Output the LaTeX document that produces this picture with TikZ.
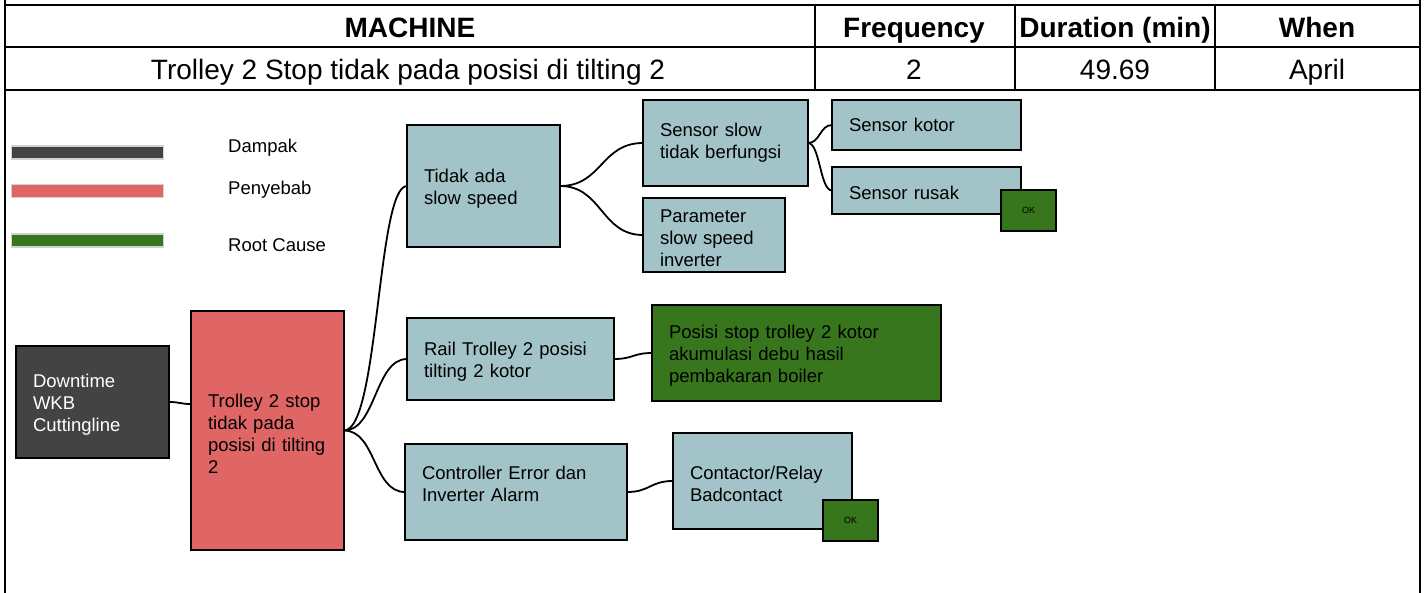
\documentclass[tikz,border=0pt]{standalone}
\usepackage{fontspec}
\setmainfont{Liberation Sans}
\definecolor{teal}{HTML}{A2C4C9}
\definecolor{rcgreen}{HTML}{38761D}
\definecolor{cred}{HTML}{E06666}
\definecolor{dgray}{HTML}{434343}
\tikzset{
  grid/.style={line width=2pt, line cap=rect},
  hdr/.style={font=\fontsize{28}{32}\selectfont\bfseries, inner sep=0, anchor=base},
  cell/.style={font=\fontsize{28}{32}\selectfont, inner sep=0, anchor=base},
  basebox/.style={draw=black, line width=1.8pt, inner xsep=17pt, inner ysep=0pt, outer sep=0pt, align=left, font=\fontsize{18.5}{22}\selectfont},
  tbox/.style={basebox, fill=teal},
  gbox/.style={basebox, fill=rcgreen},
  rbox/.style={basebox, fill=cred},
  dbox/.style={basebox, fill=dgray, text=white},
  okbox/.style={draw=black, line width=1.8pt, fill=rcgreen, minimum width=55pt, minimum height=41pt, inner sep=0, outer sep=0, font=\fontsize{9}{10}\selectfont},
  legbar/.style={draw=gray!35, line width=1.2pt, minimum width=152pt, minimum height=13pt, inner sep=0},
  legtxt/.style={anchor=west, inner sep=0, font=\fontsize{18.5}{22}\selectfont},
  conn/.style={line width=1.8pt, draw=black}
}
\newcommand{\tp}{\rule{0pt}{19pt}}
\begin{document}
\begin{tikzpicture}[x=1pt,y=-1pt]
\useasboundingbox (0,0) rectangle (1425,592);
% table grid
\draw[grid] (5,0) -- (5,592);
\draw[grid] (1420,0) -- (1420,592);
\draw[grid] (5,5) -- (1420,5);
\draw[grid] (5,47) -- (1420,47);
\draw[grid] (5,90) -- (1420,90);
\draw[grid] (815,5) -- (815,90);
\draw[grid] (1015,5) -- (1015,90);
\draw[grid] (1215,5) -- (1215,90);
\node[hdr] (h1) at (410,37) {MACHINE};
\node[hdr] (h2) at (914,37) {Frequency};
\node[hdr] (h3) at (1115,37) {Duration (min)};
\node[hdr] (h4) at (1317,37) {When};
\node[cell] (r1) at (408,79) {Trolley 2 Stop tidak pada posisi di tilting 2};
\node[cell] (r2) at (914,79) {2};
\node[cell] (r3) at (1115,79) {49.69};
\node[cell] (r4) at (1317,79) {April};
% legend
\node[legbar, fill=dgray] (lg1) at (87.5,152.5) {};
\node[legbar, fill=cred] (lg2) at (87.5,191) {};
\node[legbar, fill=rcgreen] (lg3) at (87.5,240.5) {};
\node[legtxt] (lt1) at (228,148) {Dampak};
\node[legtxt] (lt2) at (228,190) {Penyebab};
\node[legtxt] (lt3) at (228,245) {Root Cause};
% boxes
\node[dbox, text width=119pt, minimum height=112pt] (down) at (92.5,402) {\tp Downtime\\WKB\\Cuttingline};
\node[rbox, text width=119pt, minimum height=239pt] (trol) at (267.5,430.5) {\tp Trolley 2 stop\\tidak pada\\posisi di tilting\\2};
\node[tbox, text width=119pt, minimum height=122pt] (tidak) at (483.5,186) {\tp Tidak ada\\slow speed};
\node[tbox, text width=131pt, minimum height=86pt] (ss) at (725.5,143) {Sensor slow\\tidak berfungsi};
\node[tbox, text width=108pt, minimum height=74pt] (par) at (714,235) {\tp Parameter\\slow speed\\inverter};
\node[tbox, text width=155pt, minimum height=50pt] (sk) at (926.5,125) {Sensor kotor};
\node[tbox, text width=155pt, minimum height=47pt] (sr) at (926.5,190.5) {\tp Sensor rusak};
\node[tbox, text width=173pt, minimum height=82pt] (rail) at (510.5,359) {\tp Rail Trolley 2 posisi\\tilting 2 kotor};
\node[gbox, text width=255pt, minimum height=96pt] (pos) at (796.5,353) {\tp Posisi stop trolley 2 kotor\\akumulasi debu hasil\\pembakaran boiler};
\node[tbox, text width=188pt, minimum height=96pt] (ctrl) at (516,492) {\tp Controller Error dan\\Inverter Alarm\\[0pt]~};
\node[tbox, text width=145pt, minimum height=96pt] (cont) at (762.5,481) {\tp Contactor/Relay\\Badcontact};
\node[okbox] (ok1) at (1028.5,210.5) {OK};
\node[okbox] (ok2) at (850.5,520.5) {OK};
% connectors
\draw[conn] (down.east) .. controls +(11,0) and +(-11,0) .. ([yshift=26.5pt]trol.west);
\draw[conn] (trol.east) .. controls +(35,0) and +(-30,0) .. (tidak.west);
\draw[conn] (trol.east) .. controls +(32,0) and +(-32,0) .. (rail.west);
\draw[conn] (trol.east) .. controls +(32,0) and +(-32,0) .. (ctrl.west);
\draw[conn] (tidak.east) .. controls +(42,0) and +(-42,0) .. (ss.west);
\draw[conn] (tidak.east) .. controls +(42,0) and +(-42,0) .. (par.west);
\draw[conn] (ss.east) .. controls +(12,0) and +(-12,0) .. (sk.west);
\draw[conn] (ss.east) .. controls +(12,0) and +(-12,0) .. (sr.west);
\draw[conn] (rail.east) .. controls +(19,0) and +(-19,0) .. (pos.west);
\draw[conn] (ctrl.east) .. controls +(23,0) and +(-23,0) .. (cont.west);
\end{tikzpicture}
\end{document}
